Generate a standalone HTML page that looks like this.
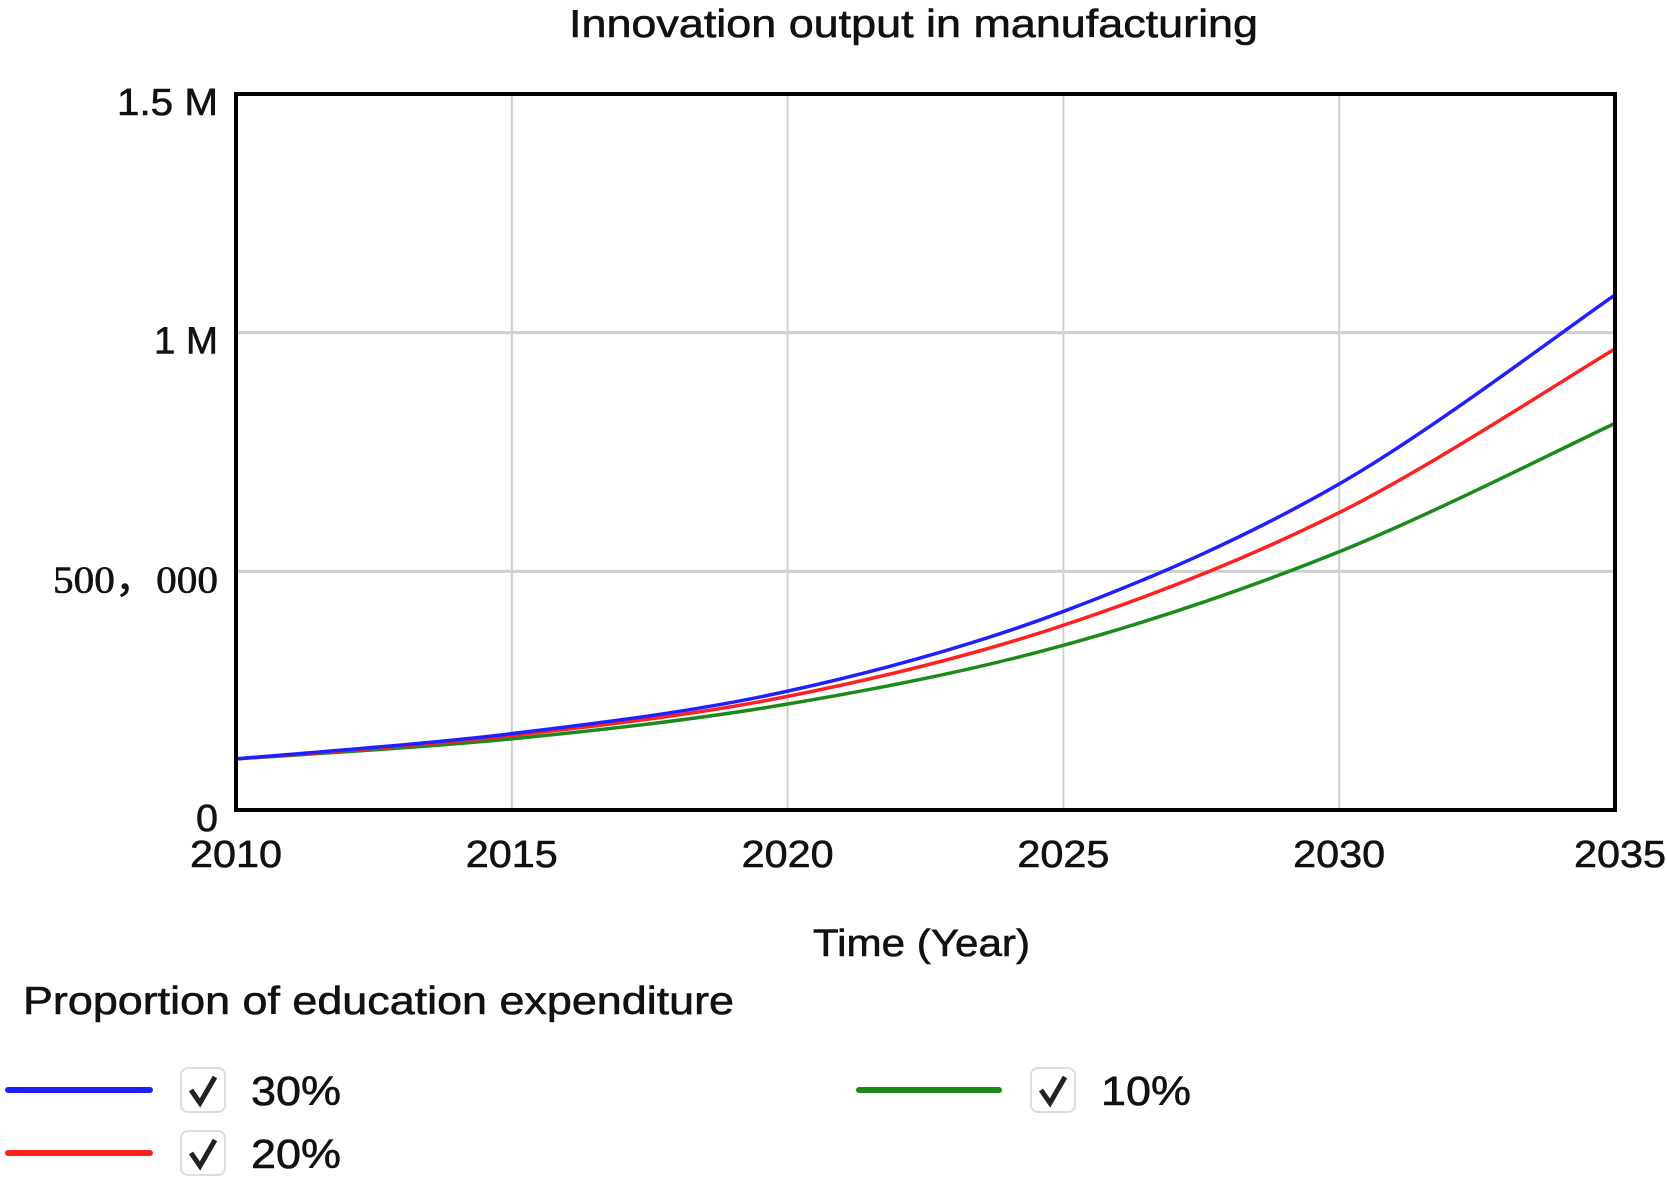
<!DOCTYPE html>
<html><head><meta charset="utf-8"><style>
body{margin:0;background:#fff;}
svg text{font-family:"Liberation Sans",sans-serif;fill:#111;stroke:#111;stroke-width:0.6;}
</style></head><body>
<svg id="chart" width="1667" height="1181" viewBox="0 0 1667 1181" xmlns="http://www.w3.org/2000/svg">
<text x="569" y="37" font-size="39" textLength="689" lengthAdjust="spacingAndGlyphs">Innovation output in manufacturing</text>
<g id="grid"></g>
<g id="series"></g>
<rect x="236" y="94" width="1379" height="716" fill="none" stroke="#000" stroke-width="4"/>
<g id="yticks"></g>
<g id="xticks"></g>
<text x="813" y="956" font-size="38" textLength="217" lengthAdjust="spacingAndGlyphs">Time (Year)</text>
<text x="23" y="1014" font-size="39" textLength="711" lengthAdjust="spacingAndGlyphs">Proportion of education expenditure</text>
<g id="legend"></g>
</svg>
<script>
const years=[2010,2015,2020,2025,2030,2035];
const s30=[107000,160000,249000,416000,683000,1079000];
const s20=[107000,156000,238000,387000,623000,966000];
const s10=[107000,149000,222000,345000,541000,810000];
const yTickVals=[0,500000,1000000,1500000];
const yTickLabels=["0","500，000","1 M","1.5 M"];
const xTickVals=[2010,2015,2020,2025,2030,2035];
const NS="http://www.w3.org/2000/svg";
const L=236,R=1615,T=94,B=810;
const xs=v=>L+(v-2010)/25*(R-L);
const ys=v=>B-v/1500000*(B-T);
function mk(tag,attrs,parent){const e=document.createElementNS(NS,tag);for(const k in attrs)e.setAttribute(k,attrs[k]);parent.appendChild(e);return e;}
const grid=document.getElementById('grid');
xTickVals.forEach(v=>{const l=mk('line',{x1:xs(v),x2:xs(v),y1:T,y2:B,stroke:'#cfcfcf','stroke-width':2},grid);

});
yTickVals.forEach(v=>{const l=mk('line',{x1:L,x2:R,y1:ys(v),y2:ys(v),stroke:'#cfcfcf','stroke-width':3},grid);

});
const yt=document.getElementById('yticks');
const yW=[22,165,64,101];
yTickVals.forEach((v,i)=>{const t=mk('text',{x:218,y:ys(v)+21,'font-size':38,'text-anchor':'end',textLength:yW[i],lengthAdjust:'spacingAndGlyphs'},yt);
if(i===1){t.setAttribute('style','font-family:"Liberation Serif",serif');}
t.textContent=yTickLabels[i];

});
const xt=document.getElementById('xticks');
xTickVals.forEach((v,i)=>{const t=mk('text',{x:xs(v)+(i===5?5:0),y:867,'font-size':38,'text-anchor':'middle',textLength:92,lengthAdjust:'spacingAndGlyphs'},xt);
t.textContent=v;

});
function path(vals){const p=years.map((y,i)=>[xs(y),ys(vals[i])]);let d=`M${p[0][0]},${p[0][1]}`;
for(let i=0;i<p.length-1;i++){const p0=p[Math.max(0,i-1)],p1=p[i],p2=p[i+1],p3=p[Math.min(p.length-1,i+2)];
const c1=[p1[0]+(p2[0]-p0[0])/6,p1[1]+(p2[1]-p0[1])/6],c2=[p2[0]-(p3[0]-p1[0])/6,p2[1]-(p3[1]-p1[1])/6];
d+=` C${c1[0]},${c1[1]} ${c2[0]},${c2[1]} ${p2[0]},${p2[1]}`;}return d;}
const sg=document.getElementById('series');
[[s10,'#1a8a1a','line-10pct'],[s20,'#ff2020','line-20pct'],[s30,'#2020ff','line-30pct']].forEach(s=>{
const p=mk('path',{d:path(s[0]),fill:'none',stroke:s[1],'stroke-width':3.5},sg);

});
const lg=document.getElementById('legend');
[[8,150,1090,181,'#2020ff','30%','legend-30pct'],[8,150,1153,181,'#ff2020','20%','legend-20pct'],[859,999,1090,1031,'#1a8a1a','10%','legend-10pct']].forEach(e=>{
const g=mk('g',{},lg);


mk('line',{x1:e[0],x2:e[1],y1:e[2],y2:e[2],stroke:e[4],'stroke-width':6,'stroke-linecap':'round'},g);
const cb=mk('rect',{x:e[3],y:e[2]-22,width:44,height:44,rx:7,fill:'#fff',stroke:'#ddd','stroke-width':2},g);


mk('path',{d:`M${e[3]+10},${e[2]} L${e[3]+19},${e[2]+13} L${e[3]+34},${e[2]-13}`,fill:'none',stroke:'#222','stroke-width':5},g);
const t=mk('text',{x:e[3]+70,y:e[2]+15,'font-size':41,textLength:90,lengthAdjust:'spacingAndGlyphs'},g);t.textContent=e[5];});
</script>
</body></html>
